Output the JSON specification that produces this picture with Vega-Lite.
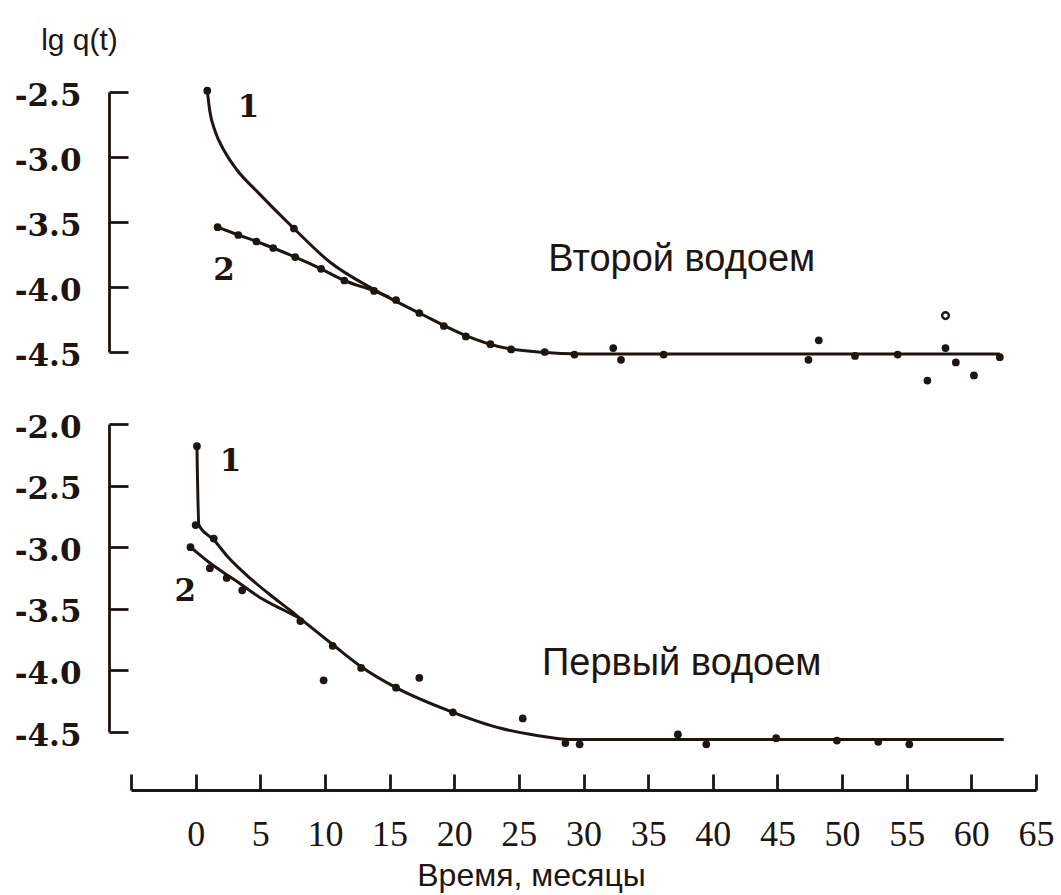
{
  "$schema": "https://vega.github.io/schema/vega-lite/v6.json",
  "background": "white",
  "padding": {"left": 14, "top": 25, "right": 10, "bottom": 5},
  "bounds": "flush",
  "spacing": 72,
  "config": {
    "view": {"stroke": null},
    "axis": {"grid": false, "domainColor": "#1e1510", "tickColor": "#1e1510", "labelColor": "#1e1510", "titleColor": "#1e1510", "domainWidth": 2.8, "tickWidth": 2.8}
  },
  "datasets": {
    "top_lines": [
      {"curve": "1", "t": 0.9, "lg": -2.49}, {"curve": "1", "t": 1.1, "lg": -2.65}, {"curve": "1", "t": 1.5, "lg": -2.8},
      {"curve": "1", "t": 2.2, "lg": -2.95}, {"curve": "1", "t": 3.2, "lg": -3.1}, {"curve": "1", "t": 4.8, "lg": -3.27},
      {"curve": "1", "t": 7.6, "lg": -3.55}, {"curve": "1", "t": 10.4, "lg": -3.81}, {"curve": "1", "t": 13.8, "lg": -4.02},
      {"curve": "1", "t": 17.3, "lg": -4.2}, {"curve": "1", "t": 20.8, "lg": -4.37}, {"curve": "1", "t": 23.5, "lg": -4.46},
      {"curve": "1", "t": 26.5, "lg": -4.5}, {"curve": "1", "t": 30, "lg": -4.515}, {"curve": "1", "t": 62.2, "lg": -4.515},
      {"curve": "2", "t": 1.7, "lg": -3.54}, {"curve": "2", "t": 3.3, "lg": -3.6}, {"curve": "2", "t": 4.7, "lg": -3.65},
      {"curve": "2", "t": 6.0, "lg": -3.7}, {"curve": "2", "t": 7.7, "lg": -3.77}, {"curve": "2", "t": 9.7, "lg": -3.86},
      {"curve": "2", "t": 11.5, "lg": -3.95}, {"curve": "2", "t": 13.8, "lg": -4.03}, {"curve": "2", "t": 15.0, "lg": -4.08}
    ],
    "top_dots": [
      {"t": 0.9, "lg": -2.49}, {"t": 7.6, "lg": -3.55}, {"t": 1.7, "lg": -3.54}, {"t": 3.3, "lg": -3.6}, {"t": 4.7, "lg": -3.65},
      {"t": 6.0, "lg": -3.7}, {"t": 7.7, "lg": -3.77}, {"t": 9.7, "lg": -3.86}, {"t": 11.5, "lg": -3.95}, {"t": 13.8, "lg": -4.03},
      {"t": 15.5, "lg": -4.1}, {"t": 17.3, "lg": -4.2}, {"t": 19.2, "lg": -4.3}, {"t": 20.9, "lg": -4.38}, {"t": 22.8, "lg": -4.44},
      {"t": 24.4, "lg": -4.48}, {"t": 27.0, "lg": -4.5}, {"t": 29.3, "lg": -4.52}, {"t": 32.3, "lg": -4.47}, {"t": 32.9, "lg": -4.56},
      {"t": 36.2, "lg": -4.52}, {"t": 47.4, "lg": -4.56}, {"t": 48.2, "lg": -4.41}, {"t": 51.0, "lg": -4.53}, {"t": 54.3, "lg": -4.52},
      {"t": 56.6, "lg": -4.72}, {"t": 58.0, "lg": -4.47}, {"t": 58.8, "lg": -4.58}, {"t": 60.2, "lg": -4.68}, {"t": 62.2, "lg": -4.54}
    ],
    "top_hollow": [{"t": 58.0, "lg": -4.22}],
    "bottom_lines": [
      {"curve": "1", "t": 0.1, "lg": -2.18}, {"curve": "1", "t": 0.25, "lg": -2.82}, {"curve": "1", "t": 1.4, "lg": -2.94},
      {"curve": "1", "t": 2.5, "lg": -3.08}, {"curve": "1", "t": 4.3, "lg": -3.26}, {"curve": "1", "t": 5.8, "lg": -3.39},
      {"curve": "1", "t": 7.4, "lg": -3.52}, {"curve": "1", "t": 8.1, "lg": -3.58}, {"curve": "1", "t": 10.6, "lg": -3.79},
      {"curve": "1", "t": 12.8, "lg": -3.97}, {"curve": "1", "t": 15.5, "lg": -4.14}, {"curve": "1", "t": 19.9, "lg": -4.34},
      {"curve": "1", "t": 23.6, "lg": -4.47}, {"curve": "1", "t": 26.5, "lg": -4.53}, {"curve": "1", "t": 29, "lg": -4.56},
      {"curve": "1", "t": 62.5, "lg": -4.56},
      {"curve": "2", "t": -0.4, "lg": -3.0}, {"curve": "2", "t": 1.0, "lg": -3.12}, {"curve": "2", "t": 2.5, "lg": -3.23},
      {"curve": "2", "t": 3.5, "lg": -3.3}, {"curve": "2", "t": 5.0, "lg": -3.41}, {"curve": "2", "t": 6.8, "lg": -3.51},
      {"curve": "2", "t": 8.1, "lg": -3.58}
    ],
    "bottom_dots": [
      {"t": 0.1, "lg": -2.18}, {"t": 0.0, "lg": -2.82}, {"t": 1.4, "lg": -2.93}, {"t": -0.4, "lg": -3.0}, {"t": 1.1, "lg": -3.17},
      {"t": 2.4, "lg": -3.25}, {"t": 3.6, "lg": -3.35}, {"t": 8.1, "lg": -3.6}, {"t": 10.6, "lg": -3.8}, {"t": 12.8, "lg": -3.98},
      {"t": 15.5, "lg": -4.14}, {"t": 19.9, "lg": -4.34}, {"t": 9.9, "lg": -4.08}, {"t": 17.3, "lg": -4.06}, {"t": 25.3, "lg": -4.39},
      {"t": 28.6, "lg": -4.59}, {"t": 29.7, "lg": -4.6}, {"t": 37.3, "lg": -4.52}, {"t": 39.5, "lg": -4.6}, {"t": 44.9, "lg": -4.55},
      {"t": 49.6, "lg": -4.57}, {"t": 52.8, "lg": -4.58}, {"t": 55.2, "lg": -4.6}
    ],
    "top_labels": [{"t": 4.1, "lg": -2.62, "text": "1"}, {"t": 2.2, "lg": -3.88, "text": "2"}],
    "bottom_labels": [{"t": 2.7, "lg": -2.31, "text": "1"}, {"t": -0.8, "lg": -3.36, "text": "2"}],
    "top_name": [{"t": 37.6, "lg": -3.79, "text": "Второй водоем"}],
    "bottom_name": [{"t": 37.6, "lg": -3.95, "text": "Первый водоем"}]
  },
  "vconcat": [
    {
      "width": 905,
      "height": 260,
      "layer": [
        {
          "data": {"name": "top_lines"},
          "mark": {"type": "line", "interpolate": "monotone", "strokeWidth": 3, "color": "#1e1510"},
          "encoding": {
            "x": {"field": "t", "type": "quantitative", "scale": {"domain": [-5, 65], "nice": false}, "axis": null},
            "y": {"field": "lg", "type": "quantitative", "scale": {"domain": [-4.5, -2.5], "nice": false, "zero": false},
              "axis": {"values": [-2.5, -3, -3.5, -4, -4.5], "format": ".1f", "labelExpr": "replace(datum.label, '\u2212', '-')",
                "offset": 22, "tickSize": -19, "labelPadding": 47, "labelOffset": 4, "labelFont": "DejaVu Serif", "labelFontWeight": "bold", "labelFontSize": 31,
                "title": "lg q(t)", "titleAngle": 0, "titleX": -30, "titleY": -52, "titleAlign": "center", "titleBaseline": "middle",
                "titleFont": "Liberation Sans", "titleFontSize": 30, "titleFontWeight": "normal"}},
            "detail": {"field": "curve"}
          }
        },
        {
          "data": {"name": "top_dots"},
          "mark": {"type": "circle", "size": 60, "color": "#1e1510", "opacity": 1},
          "encoding": {"x": {"field": "t", "type": "quantitative"}, "y": {"field": "lg", "type": "quantitative"}}
        },
        {
          "data": {"name": "top_hollow"},
          "mark": {"type": "point", "shape": "circle", "size": 45, "filled": false, "strokeWidth": 2.4, "color": "#1e1510", "opacity": 1},
          "encoding": {"x": {"field": "t", "type": "quantitative"}, "y": {"field": "lg", "type": "quantitative"}}
        },
        {
          "data": {"name": "top_labels"},
          "mark": {"type": "text", "font": "DejaVu Serif", "fontWeight": "bold", "fontSize": 31, "color": "#1e1510", "align": "center", "baseline": "middle"},
          "encoding": {"x": {"field": "t", "type": "quantitative"}, "y": {"field": "lg", "type": "quantitative"}, "text": {"field": "text"}}
        },
        {
          "data": {"name": "top_name"},
          "mark": {"type": "text", "font": "Liberation Sans", "fontSize": 38, "color": "#1e1510", "align": "center", "baseline": "middle"},
          "encoding": {"x": {"field": "t", "type": "quantitative"}, "y": {"field": "lg", "type": "quantitative"}, "text": {"field": "text"}}
        }
      ]
    },
    {
      "width": 905,
      "height": 308,
      "layer": [
        {
          "data": {"name": "bottom_lines"},
          "mark": {"type": "line", "interpolate": "monotone", "strokeWidth": 3, "color": "#1e1510"},
          "encoding": {
            "x": {"field": "t", "type": "quantitative", "scale": {"domain": [-5, 65], "nice": false},
              "axis": {"values": [-5, 0, 5, 10, 15, 20, 25, 30, 35, 40, 45, 50, 55, 60, 65], "labelExpr": "datum.value < 0 ? '' : datum.label",
                "offset": 58, "tickSize": -16, "labelPadding": 43, "labelFont": "Liberation Serif", "labelFontSize": 36, "labelFlush": false,
                "title": "Время, месяцы", "titleX": 400, "titleY": 85, "titleAlign": "center", "titleBaseline": "middle",
                "titleFont": "Liberation Sans", "titleFontSize": 32, "titleFontWeight": "normal"}},
            "y": {"field": "lg", "type": "quantitative", "scale": {"domain": [-4.5, -2.0], "nice": false, "zero": false},
              "axis": {"values": [-2, -2.5, -3, -3.5, -4, -4.5], "format": ".1f", "labelExpr": "replace(datum.label, '\u2212', '-')",
                "offset": 22, "tickSize": -19, "labelPadding": 47, "labelOffset": 4, "labelFont": "DejaVu Serif", "labelFontWeight": "bold", "labelFontSize": 31,
                "title": null}},
            "detail": {"field": "curve"}
          }
        },
        {
          "data": {"name": "bottom_dots"},
          "mark": {"type": "circle", "size": 60, "color": "#1e1510", "opacity": 1},
          "encoding": {"x": {"field": "t", "type": "quantitative"}, "y": {"field": "lg", "type": "quantitative"}}
        },
        {
          "data": {"name": "bottom_labels"},
          "mark": {"type": "text", "font": "DejaVu Serif", "fontWeight": "bold", "fontSize": 31, "color": "#1e1510", "align": "center", "baseline": "middle"},
          "encoding": {"x": {"field": "t", "type": "quantitative"}, "y": {"field": "lg", "type": "quantitative"}, "text": {"field": "text"}}
        },
        {
          "data": {"name": "bottom_name"},
          "mark": {"type": "text", "font": "Liberation Sans", "fontSize": 38, "color": "#1e1510", "align": "center", "baseline": "middle"},
          "encoding": {"x": {"field": "t", "type": "quantitative"}, "y": {"field": "lg", "type": "quantitative"}, "text": {"field": "text"}}
        }
      ]
    }
  ]
}
